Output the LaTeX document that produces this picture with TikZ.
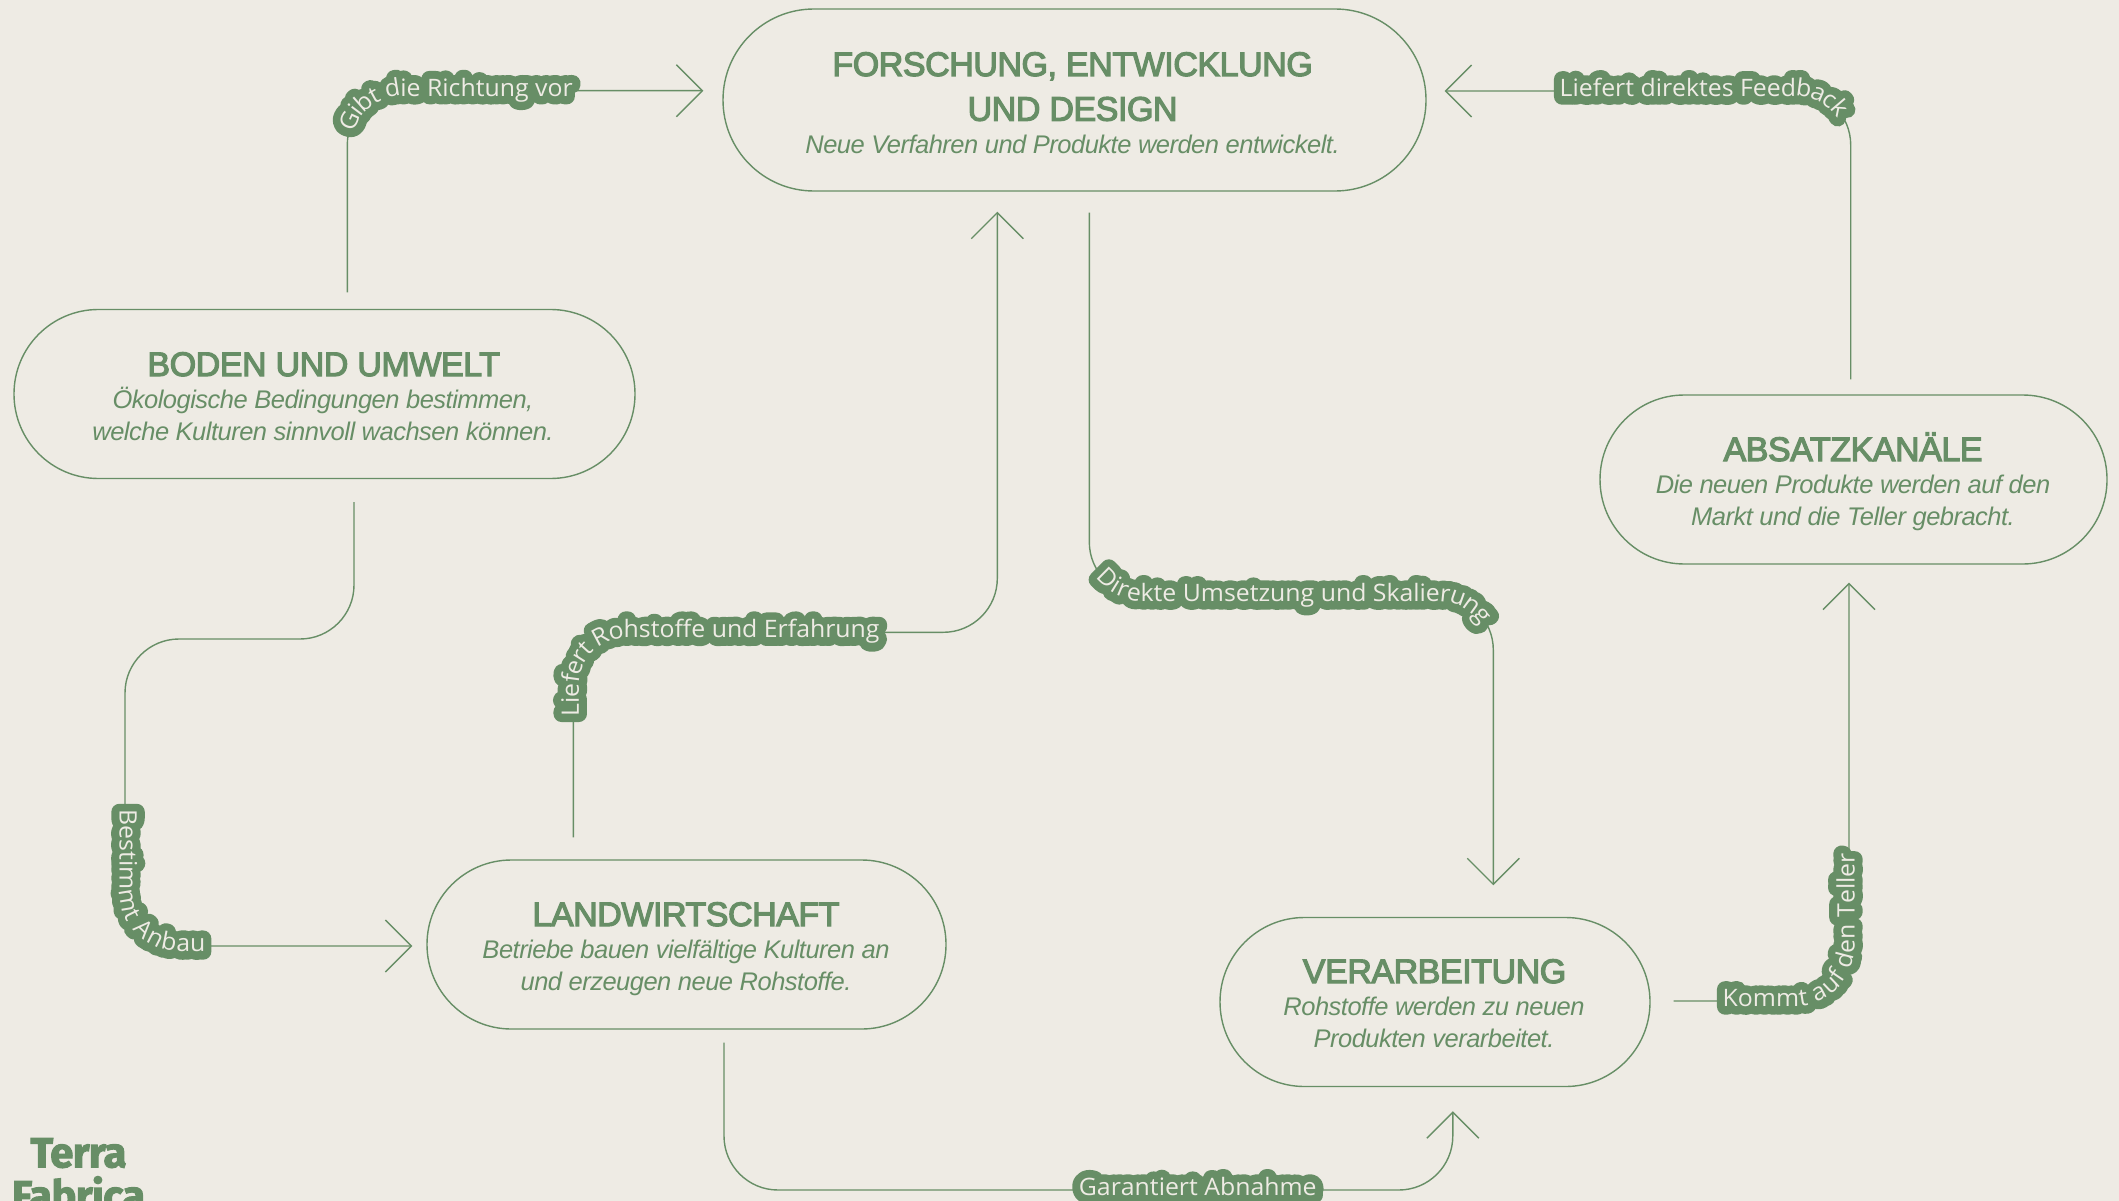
\documentclass[tikz,border=0pt]{standalone}
\usepackage{fontspec}
\usetikzlibrary{arrows.meta,decorations.text}
\setmainfont{Liberation Sans}
\definecolor{gr}{HTML}{678E66}
\definecolor{bgc}{HTML}{EEEBE4}
\newfontfamily\lblface[FakeStretch=1.035]{Open Sans}
\newfontfamily\haloface[FakeStretch=1.035,FakeBold=68]{Open Sans}
\newfontfamily\ttlface[LetterSpace=-1.3,FakeBold=3.5]{Liberation Sans}
\newfontfamily\subface[LetterSpace=-2]{Liberation Sans}
\newfontfamily\logoface[LetterSpace=-1.6,FakeBold=2.5]{Fira Sans}
\tikzset{
  pill/.style args={#1 and #2}{draw=gr,line width=1.4pt,rectangle,minimum width=#1,minimum height=#2,rounded corners=#2/2-0.1pt,inner sep=0pt},
  ttl/.style={text=gr,inner sep=0pt,align=center,anchor=base,font=\ttlface\fontsize{34}{44.7}\selectfont},
  sbt/.style={text=gr,inner sep=0pt,align=center,anchor=base,font=\subface\itshape\fontsize{25.5}{31.8}\selectfont},
  logo/.style={text=gr,inner sep=0pt,align=center,anchor=base,font=\logoface\bfseries\fontsize{42}{43}\selectfont},
  conn/.style={draw=gr,line width=1.4pt,rounded corners=54pt,-{Straight Barb[length=26pt,width=52pt]}},
  halolbl/.style 2 args={rounded corners=54pt,decorate,decoration={text along path,raise=-5.5pt,text align={left indent=#1},text={|\special{pdf:code 1 j 1 J}\haloface\fontsize{24}{28}\selectfont\color{gr}|#2}}},
  txtlbl/.style 2 args={rounded corners=54pt,decorate,decoration={text along path,raise=-5.5pt,text align={left indent=#1},text={|\lblface\fontsize{24}{28}\selectfont\color{bgc}|#2}}},
}
\begin{document}
\begin{tikzpicture}[x=1pt,y=-1pt]
\fill[bgc] (0,0) rectangle (2119,1201);
\useasboundingbox (0,0) rectangle (2119,1201);
% pills
\node[pill={703pt and 182pt}] (top) at (1074.5,100) {};
\node[pill={621pt and 169pt}] (boden) at (324.5,394) {};
\node[pill={519pt and 169pt}] (land) at (686.5,944.5) {};
\node[pill={430pt and 169pt}] (verarb) at (1435,1002) {};
\node[pill={507pt and 169pt}] (absatz) at (1853.5,479.5) {};
% texts
\node[ttl] (topT) at (1072.6,120.7) {FORSCHUNG, ENTWICKLUNG\\UND DESIGN};
\node[sbt] (topS) at (1072.5,154) {Neue Verfahren und Produkte werden entwickelt.};
\node[ttl] (bodenT) at (323.7,376) {BODEN UND UMWELT};
\node[sbt] (bodenS) at (323,440) {Ökologische Bedingungen bestimmen,\\welche Kulturen sinnvoll wachsen können.};
\node[ttl] (landT) at (686,926) {LANDWIRTSCHAFT};
\node[sbt] (landS) at (686,990) {Betriebe bauen vielfältige Kulturen an\\und erzeugen neue Rohstoffe.};
\node[ttl] (verarbT) at (1434.5,983) {VERARBEITUNG};
\node[sbt] (verarbS) at (1434,1047) {Rohstoffe werden zu neuen\\Produkten verarbeitet.};
\node[ttl] (absatzT) at (1853,461) {ABSATZKANÄLE};
\node[sbt] (absatzS) at (1853,525) {Die neuen Produkte werden auf den\\Markt und die Teller gebracht.};
\node[logo] (logoN) at (78.5,1210.3) {Terra\\Fabrica};
% corners
\coordinate (c1) at (347.3,90.7);
\coordinate (c2) at (1850.7,91);
\coordinate (c3a) at (1089.3,596);
\coordinate (c3b) at (1493.3,596);
\coordinate (c4a) at (354,639);
\coordinate (c4b) at (125,639);
\coordinate (c4c) at (125,946);
\coordinate (c5a) at (573.3,632.3);
\coordinate (c5b) at (997.3,632.3);
\coordinate (c6a) at (724,1190);
\coordinate (c6b) at (1452.8,1190);
\coordinate (c7) at (1849,1001);
% connectors
\draw[conn,shorten <=16.5pt,shorten >=19pt] (boden.north -| c1) -- (c1) -- (top.west |- c1);
\draw[conn,shorten <=15pt,shorten >=18pt] (absatz.north -| c2) -- (c2) -- (top.east |- c2);
\draw[conn,shorten <=21pt,shorten >=31.5pt] (top.south -| c3a) -- (c3a) -- (c3b) -- (verarb.north -| c3b);
\draw[conn,shorten <=23pt,shorten >=14pt] (boden.south -| c4a) -- (c4a) -- (c4b) -- (c4c) -- (land.west |- c4c);
\draw[conn,shorten <=22pt,shorten >=20pt] (land.north -| c5a) -- (c5a) -- (c5b) -- (top.south -| c5b);
\draw[conn,shorten <=13pt,shorten >=24pt] (land.south -| c6a) -- (c6a) -- (c6b) -- (verarb.south -| c6b);
\draw[conn,shorten <=23pt,shorten >=18pt] (verarb.east |- c7) -- (c7) -- (absatz.south -| c7);
% label halos
\path[halolbl={178pt}{Gibt die Richtung vor}] (boden.north -| c1) -- (c1) -- (top.west |- c1);
\path[halolbl={133pt}{Liefert direktes Feedback}] (top.east |- c2) -- (c2) -- (absatz.north -| c2);
\path[halolbl={384pt}{Direkte Umsetzung und Skalierung}] (top.south -| c3a) -- (c3a) -- (c3b) -- (verarb.north -| c3b);
\path[halolbl={513pt}{Bestimmt Anbau}] (boden.south -| c4a) -- (c4a) -- (c4b) -- (c4c) -- (land.west |- c4c);
\path[halolbl={143pt}{Liefert Rohstoffe und Erfahrung}] (land.north -| c5a) -- (c5a) -- (c5b) -- (top.south -| c5b);
\path[halolbl={492pt}{Garantiert Abnahme}] (land.south -| c6a) -- (c6a) -- (c6b) -- (verarb.south -| c6b);
\path[halolbl={72pt}{Kommt auf den Teller}] (verarb.east |- c7) -- (c7) -- (absatz.south -| c7);
% label texts
\path[txtlbl={178pt}{Gibt die Richtung vor}] (boden.north -| c1) -- (c1) -- (top.west |- c1);
\path[txtlbl={133pt}{Liefert direktes Feedback}] (top.east |- c2) -- (c2) -- (absatz.north -| c2);
\path[txtlbl={384pt}{Direkte Umsetzung und Skalierung}] (top.south -| c3a) -- (c3a) -- (c3b) -- (verarb.north -| c3b);
\path[txtlbl={513pt}{Bestimmt Anbau}] (boden.south -| c4a) -- (c4a) -- (c4b) -- (c4c) -- (land.west |- c4c);
\path[txtlbl={143pt}{Liefert Rohstoffe und Erfahrung}] (land.north -| c5a) -- (c5a) -- (c5b) -- (top.south -| c5b);
\path[txtlbl={492pt}{Garantiert Abnahme}] (land.south -| c6a) -- (c6a) -- (c6b) -- (verarb.south -| c6b);
\path[txtlbl={72pt}{Kommt auf den Teller}] (verarb.east |- c7) -- (c7) -- (absatz.south -| c7);
\end{tikzpicture}
\end{document}
